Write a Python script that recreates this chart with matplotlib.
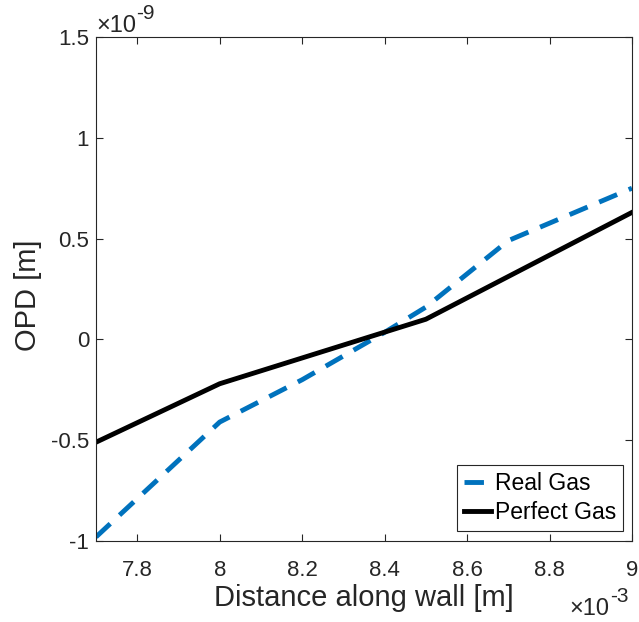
import numpy as np
import matplotlib
matplotlib.use('Agg')
import matplotlib.pyplot as plt

# distance along wall [x 1e-3 m], OPD [x 1e-9 m]
x_real = [7.7, 8.0, 8.2, 8.4, 8.5, 8.7, 9.0]
opd_real = [-0.98, -0.41, -0.20, 0.035, 0.16, 0.49, 0.75]
x_perfect = [7.7, 8.0, 8.5, 9.0]
opd_perfect = [-0.51, -0.22, 0.10, 0.63]

xticks = [7.8, 8.0, 8.2, 8.4, 8.6, 8.8, 9.0]
xticklabels = ['7.8', '8', '8.2', '8.4', '8.6', '8.8', '9']
yticks = [-1, -0.5, 0, 0.5, 1, 1.5]
yticklabels = ['-1', '-0.5', '0', '0.5', '1', '1.5']

plt.rcParams['font.family'] = ['Liberation Sans', 'DejaVu Sans']

TXT = '#262626'

fig = plt.figure(figsize=(6.39, 6.22), dpi=100)
ax = fig.add_axes([96 / 639, 81 / 622, 536 / 639, 504 / 622])

ax.plot(x_real, opd_real, color='#0072BD', lw=3.5, dashes=(4, 2.6),
        label='Real Gas')
ax.plot(x_perfect, opd_perfect, color='black', lw=3.5, label='Perfect Gas')

ax.set_xlim(7.7, 9.0)
ax.set_ylim(-1, 1.5)
ax.set_xticks(xticks)
ax.set_xticklabels(xticklabels)
ax.set_yticks(yticks)
ax.set_yticklabels(yticklabels)
ax.tick_params(direction='in', top=True, right=True, length=5, width=0.8,
               colors=TXT, labelsize=16)
ax.tick_params(axis='x', pad=14)
ax.tick_params(axis='y', pad=5)
for s in ax.spines.values():
    s.set_color(TXT)
    s.set_linewidth(0.8)

ax.set_xlabel('Distance along wall [m]', fontsize=21, color=TXT, labelpad=2)
ax.set_ylabel('OPD [m]', fontsize=21, color=TXT)
ax.yaxis.set_label_coords(-0.100, 0.488)


def multiplier(x, y, power):
    # MATLAB style exponent label: x10 with a raised power
    t = ax.text(x, y, '\u00d710', transform=ax.transAxes, fontsize=17,
                color=TXT, ha='left', va='baseline')
    ax.annotate(power, xy=(1.0, 0.62), xycoords=t, fontsize=15, color=TXT,
                ha='left', va='bottom')


multiplier(0.0, 1.01, '-9')
multiplier(0.884, -0.147, '-3')

leg = ax.legend(loc='lower right', fontsize=16.5, handlelength=1.2,
                handletextpad=0.15, borderpad=0.3, labelspacing=0.25,
                borderaxespad=0, fancybox=False, framealpha=1, edgecolor=TXT,
                bbox_to_anchor=(0.983, 0.02))
leg.get_frame().set_linewidth(0.8)

fig.savefig('out.png', dpi=100)
